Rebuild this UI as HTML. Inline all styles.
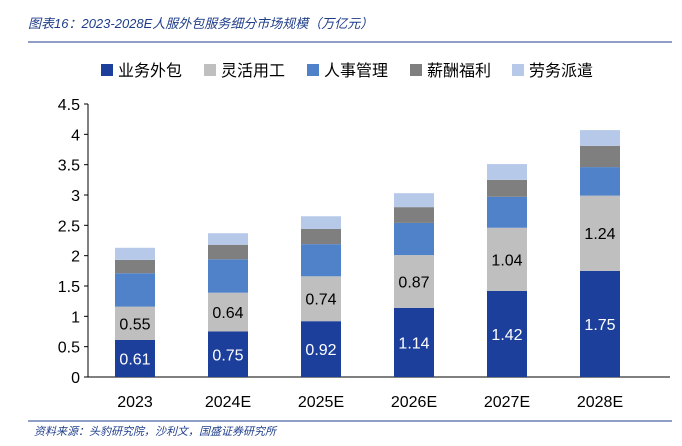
<!DOCTYPE html>
<html><head><meta charset="utf-8"><style>
body{margin:0;background:#fff;}
svg text{font-family:"Liberation Sans","Noto Sans CJK SC",sans-serif;}
</style></head><body>
<svg width="682" height="441" viewBox="0 0 682 441">
<text x="28" y="28" font-size="13" font-style="italic" fill="#1f3e8a">图表16：2023-2028E人服外包服务细分市场规模（万亿元）</text>
<line x1="28" y1="42" x2="672" y2="42" stroke="#1f3e8a" stroke-width="1"/>
<g id="legend"></g>
<g id="axis"></g>
<g id="bars"></g>
<line x1="28" y1="421" x2="672" y2="421" stroke="#1f3e8a" stroke-width="1"/>
<text x="34" y="435" font-size="11" font-style="italic" fill="#1f3e8a">资料来源：头豹研究院，沙利文，国盛证券研究所</text>
</svg>
<script>
const categories=["2023","2024E","2025E","2026E","2027E","2028E"];
const seriesNames=["业务外包","灵活用工","人事管理","薪酬福利","劳务派遣"];
const outsourcing=[0.61,0.75,0.92,1.14,1.42,1.75];
const flexible=[0.55,0.64,0.74,0.87,1.04,1.24];
const hrAdmin=[0.55,0.55,0.53,0.53,0.51,0.47];
const payroll=[0.22,0.24,0.25,0.26,0.28,0.35];
const dispatch=[0.20,0.19,0.21,0.23,0.26,0.26];
const yTicks=[0,0.5,1,1.5,2,2.5,3,3.5,4,4.5];
const yTickLabels=["0","0.5","1","1.5","2","2.5","3","3.5","4","4.5"];
const colors=["#1c3f9b","#bfbfbf","#4f82c8","#7f7f7f","#b7c9e9"];
const labelColors=["#ffffff","#000000",null,null,null];
const ns="http://www.w3.org/2000/svg";
const x0=88,x1=670,yBase=377,yTop=104;
const y=v=>yBase-(v/4.5)*(yBase-yTop);
const band=93;
const xc=i=>135+band*i;
const bw=40;
function mk(t,a,p){const e=document.createElementNS(ns,t);for(const k in a)e.setAttribute(k,a[k]);p.appendChild(e);return e;}
const ax=document.getElementById('axis');
const l=mk('line',{x1:x0,y1:yTop,x2:x0,y2:yBase,stroke:'#000'},ax);


const xl=mk('line',{x1:x0,y1:yBase,x2:x1,y2:yBase,stroke:'#000'},ax);


yTicks.forEach((v,i)=>{
 const t=mk('line',{x1:x0-4,y1:y(v),x2:x0,y2:y(v),stroke:'#000'},ax);
 
 
 const tx=mk('text',{x:x0-8,y:y(v)+6,'text-anchor':'end','font-size':16,fill:'#000'},ax);
 tx.textContent=yTickLabels[i];
 
 
});
const series=[outsourcing,flexible,hrAdmin,payroll,dispatch];
const bg=document.getElementById('bars');
categories.forEach((c,i)=>{
 let acc=0;
 series.forEach((s,k)=>{
  const v=s[i];
  const r=mk('rect',{x:xc(i)-bw/2,y:y(acc+v),width:bw,height:y(acc)-y(acc+v),fill:colors[k]},bg);
  
  
  if(labelColors[k]){
   const t=mk('text',{x:xc(i),y:y(acc+v/2)+6,'text-anchor':'middle','font-size':16,fill:labelColors[k]},bg);
   t.textContent=v.toFixed(2);
   
   
  }
  acc+=v;
 });
 const ct=mk('text',{x:xc(i),y:yBase+30,'text-anchor':'middle','font-size':16,fill:'#000'},bg);
 ct.textContent=c;
 
 
});
const lg=document.getElementById('legend');
const lx=[101,204,307,410,512];
seriesNames.forEach((n,k)=>{
 const r=mk('rect',{x:lx[k],y:64,width:12,height:12,fill:colors[k]},lg);
 
 
 const t=mk('text',{x:lx[k]+17,y:76,'font-size':16,fill:'#000'},lg);
 t.textContent=n;
 
 
});
</script>
</body></html>
